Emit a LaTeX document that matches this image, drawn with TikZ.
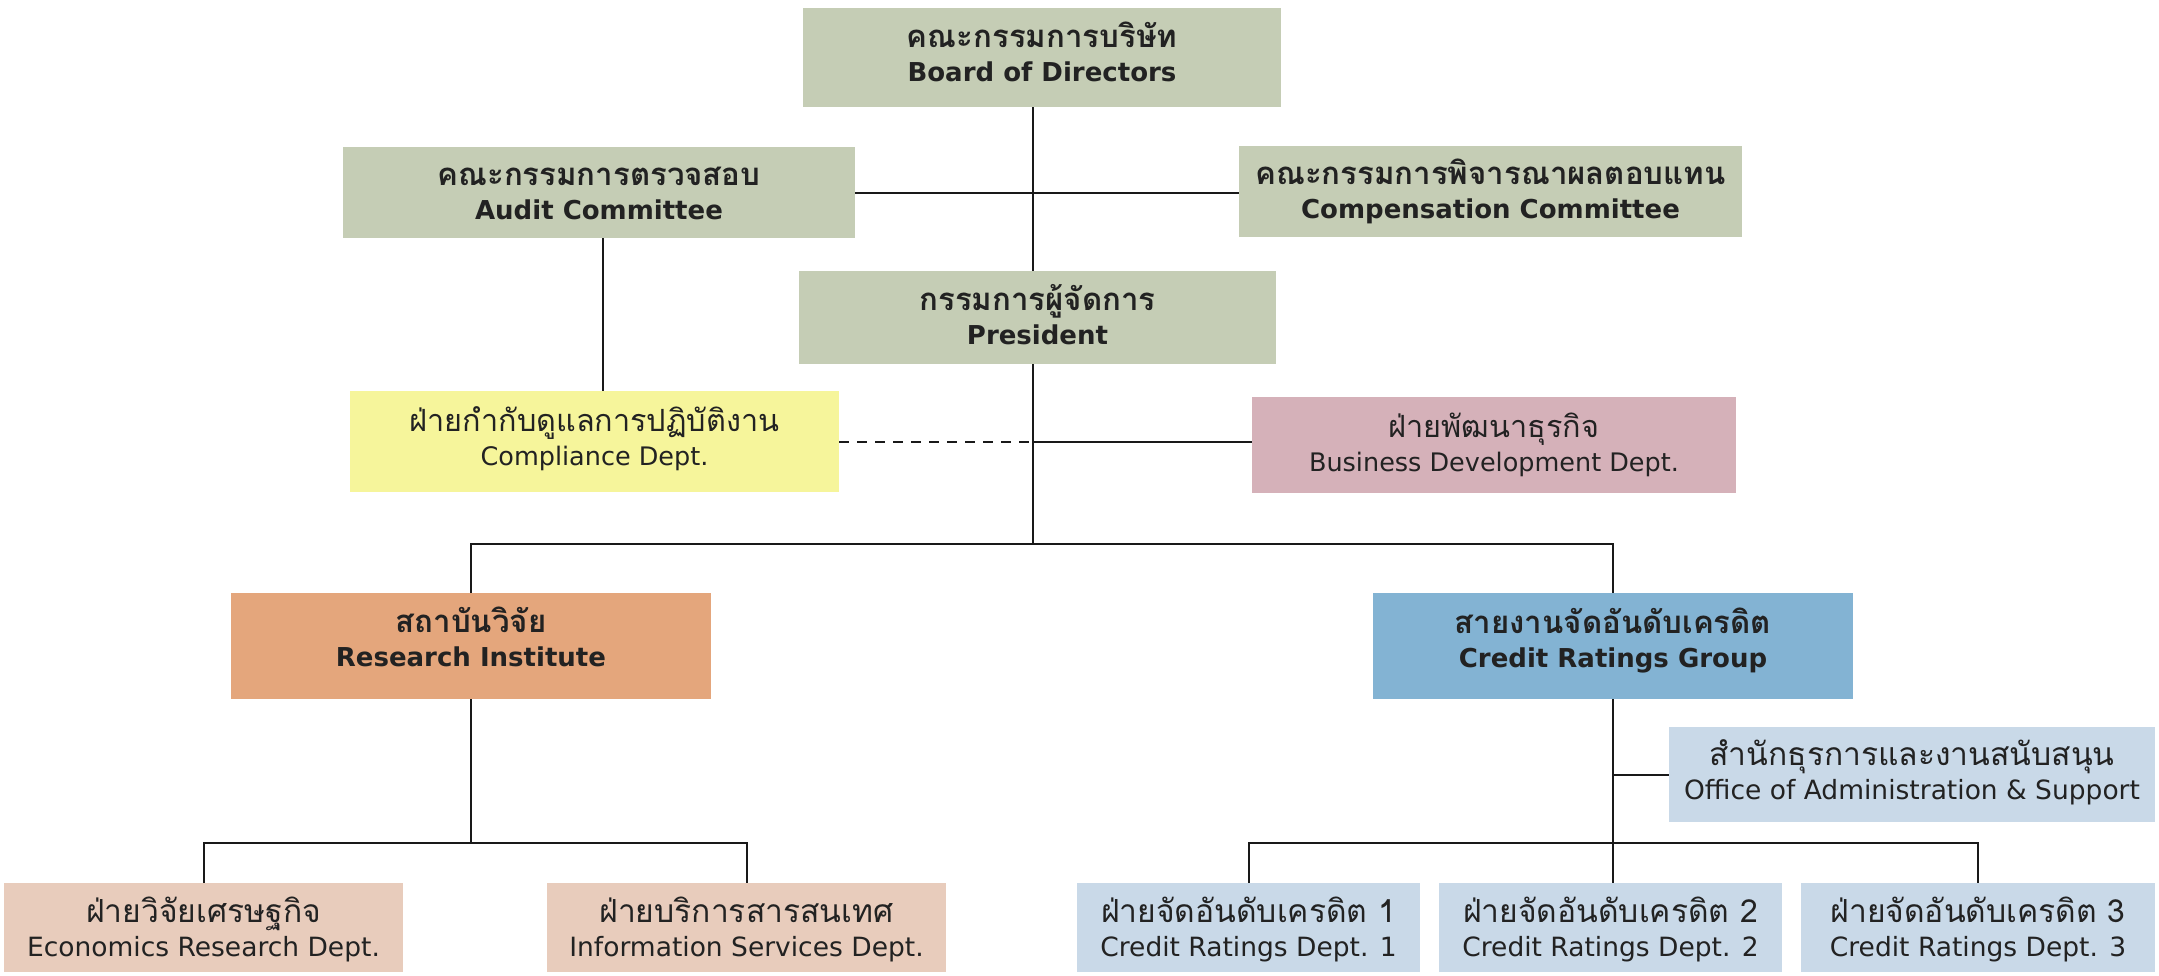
\documentclass[tikz,border=0pt]{standalone}
\usepackage{fontspec}
\setmainfont{DejaVu Sans}
\newfontfamily\thaifont[Script=Thai,Scale=1.2]{Loma}
\newcommand\orgtext[3]{\raisebox{#1}[\height][\depth]{\begin{tabular}{@{}c@{}}{\thaifont #2}\\#3\end{tabular}}}
\definecolor{cgreen}{HTML}{C5CDB5}
\definecolor{cyellow}{HTML}{F6F59B}
\definecolor{cpink}{HTML}{D5B1B9}
\definecolor{corange}{HTML}{E4A67C}
\definecolor{cblue}{HTML}{83B3D3}
\definecolor{clblue}{HTML}{C9D9E8}
\definecolor{ctan}{HTML}{E8CCBC}
\definecolor{ctext}{HTML}{222222}
\begin{document}
\begin{tikzpicture}[x=1pt,y=-1pt,
  orgbox/.style={draw=none, inner sep=0pt, text=ctext},
  titlebox/.style={orgbox, font=\fontsize{26}{34}\selectfont\bfseries},
  deptbox/.style={orgbox, font=\fontsize{25.5}{34}\selectfont},
  lowbox/.style={orgbox, font=\fontsize{26.5}{34}\selectfont},
  link/.style={line width=2pt, draw=black!90},
  dlink/.style={link, dash pattern=on 10pt off 8pt}]
\fill[white] (0,0) rectangle (2159,975);
\useasboundingbox (0,0) rectangle (2159,975);

\node[titlebox, fill=cgreen, minimum width=478pt, minimum height=99pt] (board) at (1042,57.5)
  {\orgtext{1pt}{คณะกรรมการบริษัท}{Board of Directors}};
\node[titlebox, fill=cgreen, minimum width=512pt, minimum height=91pt] (audit) at (599,192.5)
  {\orgtext{-3pt}{คณะกรรมการตรวจสอบ}{Audit Committee}};
\node[titlebox, fill=cgreen, minimum width=503pt, minimum height=91pt] (comp) at (1490.5,191.5)
  {\orgtext{-2pt}{คณะกรรมการพิจารณาผลตอบแทน}{Compensation Committee}};
\node[titlebox, fill=cgreen, minimum width=477pt, minimum height=93pt] (pres) at (1037.5,317.5)
  {\orgtext{-2pt}{กรรมการผู้จัดการ}{President}};
\node[deptbox, fill=cyellow, minimum width=489pt, minimum height=101pt] (compl) at (594.5,441.5)
  {\orgtext{0pt}{ฝ่ายกำกับดูแลการปฏิบัติงาน}{Compliance Dept.}};
\node[deptbox, fill=cpink, minimum width=484pt, minimum height=96pt] (biz) at (1494,445)
  {\orgtext{-2pt}{ฝ่ายพัฒนาธุรกิจ}{Business Development Dept.}};
\node[titlebox, fill=corange, minimum width=480pt, minimum height=106pt] (res) at (471,646)
  {\orgtext{4pt}{สถาบันวิจัย}{Research Institute}};
\node[titlebox, fill=cblue, minimum width=480pt, minimum height=106pt] (crg) at (1613,646)
  {\orgtext{3pt}{สายงานจัดอันดับเครดิต}{Credit Ratings Group}};
\node[lowbox, fill=clblue, minimum width=486pt, minimum height=95pt] (office) at (1912,774.5)
  {\orgtext{0pt}{สำนักธุรการและงานสนับสนุน}{Office of Administration \& Support}};
\node[lowbox, fill=ctan, minimum width=399pt, minimum height=89pt] (econ) at (203.5,927.5)
  {\orgtext{-4pt}{ฝ่ายวิจัยเศรษฐกิจ}{Economics Research Dept.}};
\node[lowbox, fill=ctan, minimum width=399pt, minimum height=89pt] (info) at (746.5,927.5)
  {\orgtext{-4pt}{ฝ่ายบริการสารสนเทศ}{Information Services Dept.}};
\node[lowbox, fill=clblue, minimum width=343pt, minimum height=89pt] (cr1) at (1248.5,927.5)
  {\orgtext{-4pt}{ฝ่ายจัดอันดับเครดิต 1}{Credit Ratings Dept. 1}};
\node[lowbox, fill=clblue, minimum width=343pt, minimum height=89pt] (cr2) at (1610.5,927.5)
  {\orgtext{-4pt}{ฝ่ายจัดอันดับเครดิต 2}{Credit Ratings Dept. 2}};
\node[lowbox, fill=clblue, minimum width=354pt, minimum height=89pt] (cr3) at (1978,927.5)
  {\orgtext{-4pt}{ฝ่ายจัดอันดับเครดิต 3}{Credit Ratings Dept. 3}};

\coordinate (spine) at (1033,0);
\coordinate (bus) at (1033,544);
\coordinate (auditx) at (603,0);
\coordinate (rbus) at (471,843);
\coordinate (cbus) at (1613,843);

\draw[link] (board.south -| spine) -- (pres.north -| spine);
\draw[link] (audit.east) -- (audit.east -| comp.west);
\draw[link] (audit.south -| auditx) -- (compl.north -| auditx);
\draw[link] (pres.south -| spine) -- (bus);
\draw[dlink] (compl.east) -- (compl.east -| spine);
\draw[link] (compl.east -| spine) -- (compl.east -| biz.west);
\draw[link] (res.north) |- (bus) -| (crg.north);
\draw[link] (res.south) -- (rbus);
\draw[link] (econ.north) |- (rbus) -| (info.north);
\draw[link] (crg.south) -- (cbus);
\draw[link] (cr1.north) |- (cbus) -| (cr3.north);
\draw[link] (cbus) -- (cr2.north -| cbus);
\draw[link] (office.west) -- (office.west -| crg.south);
\end{tikzpicture}
\end{document}
